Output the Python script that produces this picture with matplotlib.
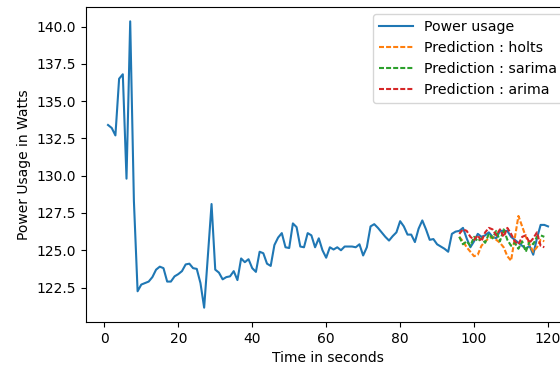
import numpy as np
import matplotlib
matplotlib.use("Agg")
import matplotlib.pyplot as plt

# measured power usage, one value per second (t = 1..120)
power = [
    133.4, 133.2, 132.7, 136.5, 136.8, 129.8, 140.35, 128.3, 122.25, 122.7,
    122.8, 122.9, 123.2, 123.7, 123.9, 123.8, 122.9, 122.9, 123.25, 123.4,
    123.6, 124.05, 124.1, 123.8, 123.75, 122.8, 121.15, 124.6, 128.1, 123.7,
    123.5, 123.05, 123.2, 123.25, 123.6, 123.0, 124.45, 124.2, 124.4, 123.8,
    123.55, 124.9, 124.8, 124.1, 123.95, 125.35, 125.85, 126.15, 125.2, 125.15,
    126.8, 126.55, 125.25, 125.2, 126.15, 126.0, 125.2, 125.8, 125.0, 124.5,
    125.2, 125.05, 125.2, 125.0, 125.25, 125.25, 125.25, 125.2, 125.4, 124.65,
    125.2, 126.6, 126.75, 126.5, 126.2, 125.9, 125.65, 125.95, 126.2, 126.95,
    126.6, 126.05, 126.05, 125.55, 126.45, 127.0, 126.4, 125.7, 125.75, 125.4,
    125.25, 125.1, 124.9, 126.1, 126.25, 126.3, 126.5, 125.8, 125.2, 125.6,
    126.1, 125.9, 126.0, 126.2, 125.9, 125.8, 126.3, 126.3, 126.3, 125.9,
    125.7, 125.5, 125.3, 125.1, 125.3, 124.7, 125.8, 126.7, 126.7, 126.6,
]
time = np.arange(1, len(power) + 1)

# forecasts over the last part of the window (t = 96..119)
pred_time = np.arange(96, 120)
holts = [
    125.9, 125.6, 125.2, 124.9, 124.6, 124.7, 125.3, 125.6, 125.8, 125.9,
    125.7, 125.5, 125.2, 124.6, 124.3, 125.8, 127.3, 126.6, 125.9, 125.4,
    124.9, 125.2, 125.7, 125.6,
]
sarima = [
    125.9, 125.4, 125.6, 125.3, 125.9, 125.6, 125.8, 125.5, 126.1, 125.8,
    126.3, 125.6, 126.4, 125.7, 125.3, 125.5, 125.1, 125.6, 124.9, 125.6,
    125.4, 125.9, 126.0, 125.9,
]
arima = [
    126.1, 126.4, 126.3, 125.9, 125.7, 126.0, 125.6, 126.2, 126.5, 126.4,
    126.0, 126.4, 125.9, 126.5, 126.1, 125.6, 125.4, 125.9, 126.0, 125.5,
    125.8, 126.2, 125.3, 125.2,
]

fig = plt.figure(figsize=(5.6, 3.71), dpi=100)
# axes runs a little past the right edge, as in the cropped original
ax = fig.add_axes([0.1536, 0.1321, 0.8643, 0.849])

dash = (0, (2.4, 1.0))
ax.plot(time, power, color="C0", lw=1.5, label="Power usage")
ax.plot(pred_time, holts, color="C1", lw=1.5, ls=dash, label="Prediction : holts")
ax.plot(pred_time, sarima, color="C2", lw=1.5, ls=dash, label="Prediction : sarima")
ax.plot(pred_time, arima, color="C3", lw=1.5, ls=dash, label="Prediction : arima")

ax.set_xlabel("Time in seconds")
ax.set_ylabel("Power Usage in Watts")
ax.legend(loc="upper right", fontsize=10.2, handlelength=2.4)

fig.savefig("out.png", dpi=100)
